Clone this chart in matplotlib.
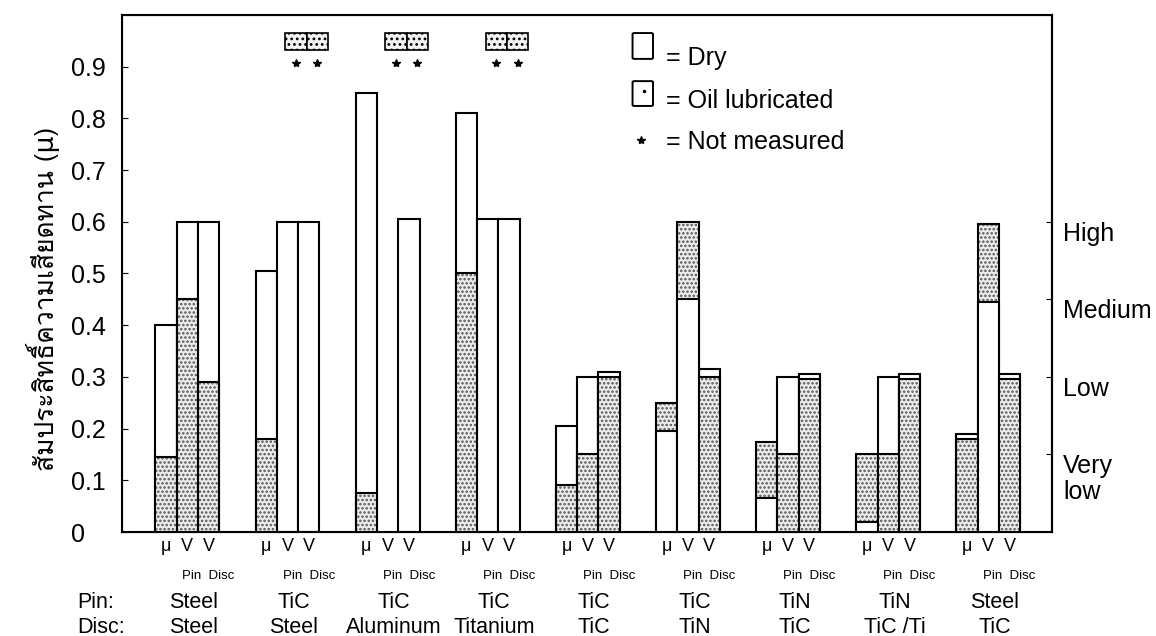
import numpy as np
import matplotlib.pyplot as plt
from matplotlib import font_manager
from matplotlib.ft2font import FT2Font
from matplotlib.patches import Rectangle, FancyBboxPatch

nan = np.nan

# Materials for each test pair
pin_materials = ["Steel", "TiC", "TiC", "TiC", "TiC", "TiC", "TiN", "TiN", "Steel"]
disc_materials = ["Steel", "Steel", "Aluminum", "Titanium", "TiC", "TiN", "TiC", "TiC /Ti", "TiC"]

# Friction coefficient (mu), dry / oil lubricated
dry_mu = [0.40, 0.505, 0.85, 0.81, 0.205, 0.195, 0.065, 0.02, 0.19]
oil_mu = [0.145, 0.18, 0.075, 0.50, 0.09, 0.25, 0.175, 0.15, 0.18]

# Wear level of the pin (V pin), dry / oil lubricated
dry_vpin = [0.60, 0.60, nan, 0.605, 0.30, 0.45, 0.30, 0.30, 0.445]
oil_vpin = [0.45, nan, nan, nan, 0.15, 0.60, 0.15, 0.15, 0.595]

# Wear level of the disc (V disc), dry / oil lubricated
dry_vdisc = [0.60, 0.60, 0.605, 0.605, 0.31, 0.315, 0.305, 0.305, 0.305]
oil_vdisc = [0.29, nan, nan, nan, 0.30, 0.30, 0.295, 0.295, 0.295]

bar_labels = ["\u03bc", "V", "V"]
level_ticks = [0.15, 0.3, 0.45, 0.6]
level_labels = ["Very\nlow", "Low", "Medium", "High"]
y_ticks = [0, 0.1, 0.2, 0.3, 0.4, 0.5, 0.6, 0.7, 0.8, 0.9]
y_label = "สัมประสิทธิ์ความเสียดทาน (\u03bc)"


def find_thai_font():
    # first installed font that has Thai glyphs
    for f in font_manager.fontManager.ttflist:
        try:
            if FT2Font(f.fname).get_char_index(ord("ส")):
                return f.name
        except Exception:
            pass
    return "DejaVu Sans"


plt.rcParams["font.family"] = ["Liberation Sans", "DejaVu Sans"]
plt.rcParams["hatch.linewidth"] = 1.2

fig = plt.figure(figsize=(11.56, 6.36), dpi=100)
ax = fig.add_axes([0.1055, 0.1635, 0.8045, 0.8130])

n = len(pin_materials)
group_x = 2.07 + 4.7 * np.arange(n)
columns = [(dry_mu, oil_mu), (dry_vpin, oil_vpin), (dry_vdisc, oil_vdisc)]


def draw_bar(x, value, oil, z):
    if oil:
        ax.bar(x, value, width=1.0, color="#ececec", hatch="....",
               edgecolor="#555555", linewidth=0, zorder=z)
        ax.bar(x, value, width=1.0, fill=False, edgecolor="black",
               linewidth=1.5, zorder=z + 0.5)
    else:
        ax.bar(x, value, width=1.0, color="white", edgecolor="black",
               linewidth=1.5, zorder=z)


tick_pos = []
tick_lab = []
for c, (dry, oil) in enumerate(columns):
    for i in range(n):
        x = group_x[i] + c
        tick_pos.append(x)
        tick_lab.append(bar_labels[c])
        pair = []
        if not np.isnan(dry[i]):
            pair.append((dry[i], False))
        if not np.isnan(oil[i]):
            pair.append((oil[i], True))
        # bigger value behind, smaller in front
        pair.sort(key=lambda p: -p[0])
        for k, (v, is_oil) in enumerate(pair):
            draw_bar(x, v, is_oil, 2 + k)
        # oil value not measured -> small box and star at top
        if c > 0 and np.isnan(oil[i]):
            xs = x + 0.4
            ax.add_patch(Rectangle((xs - 0.5, 0.933), 1.0, 0.032, facecolor="#f2f2f2",
                                   hatch="...", edgecolor="black", linewidth=1.2, zorder=3))
            ax.plot(xs, 0.908, marker="*", markersize=6, color="black", zorder=4)

ax.set_xlim(0, 43.66)
ax.set_ylim(0, 1.0)
for s in ax.spines.values():
    s.set_linewidth(1.5)

ax.set_yticks(y_ticks)
ax.set_yticklabels(["0" if t == 0 else f"{t:.1f}" for t in y_ticks])
ax.tick_params(axis="y", direction="in", length=4, pad=37, labelsize=18)
for lab in ax.get_yticklabels():
    lab.set_horizontalalignment("left")

ax.set_xticks(tick_pos)
ax.set_xticklabels(tick_lab)
ax.tick_params(axis="x", length=0, pad=4, labelsize=13)

# right side wear levels
ax2 = ax.twinx()
ax2.set_ylim(0, 1.0)
ax2.set_yticks(level_ticks)
ax2.set_yticklabels(level_labels)
ax2.tick_params(axis="y", direction="in", length=4, pad=8, labelsize=18)
for lab in ax2.get_yticklabels():
    lab.set_verticalalignment("top")
    lab.set_linespacing(1.1)
ax2.spines["right"].set_linewidth(1.5)

# Pin / Disc captions under the groups
xt = ax.get_xaxis_transform()
for i in range(n):
    ax.text(group_x[i] + 2, -0.085, "Pin  Disc", transform=xt, ha="center",
            va="center", fontsize=9.5)
    ax.text(group_x[i] + 1.3, -0.137, pin_materials[i], transform=xt,
            ha="center", va="center", fontsize=15.5)
    ax.text(group_x[i] + 1.3, -0.184, disc_materials[i], transform=xt,
            ha="center", va="center", fontsize=15.5)
ax.text(-2.1, -0.137, "Pin:", transform=xt, ha="left", va="center", fontsize=15.5)
ax.text(-2.1, -0.184, "Disc:", transform=xt, ha="left", va="center", fontsize=15.5)

# legend drawn by hand
lg = ax.transAxes
ax.add_patch(FancyBboxPatch((0.551, 0.917), 0.018, 0.046, boxstyle="round,pad=0.002",
                            facecolor="white", edgecolor="black", linewidth=1.4,
                            transform=lg, zorder=5))
ax.add_patch(FancyBboxPatch((0.551, 0.826), 0.018, 0.044, boxstyle="round,pad=0.002",
                            facecolor="white", edgecolor="black", linewidth=1.4,
                            transform=lg, zorder=5))
ax.plot(0.561, 0.853, marker=".", markersize=3, color="black", transform=lg, zorder=6)
ax.plot(0.558, 0.758, marker="*", markersize=6, color="black", transform=lg, zorder=6)
ax.text(0.585, 0.917, "= Dry", transform=lg, ha="left", va="center", fontsize=18)
ax.text(0.585, 0.834, "= Oil lubricated", transform=lg, ha="left", va="center", fontsize=18)
ax.text(0.585, 0.754, "= Not measured", transform=lg, ha="left", va="center", fontsize=18)

fig.text(0.037, 0.53, y_label, rotation=90, ha="center", va="center",
         fontsize=19, family=[find_thai_font(), "DejaVu Sans"])

fig.savefig("out.png", dpi=100)
